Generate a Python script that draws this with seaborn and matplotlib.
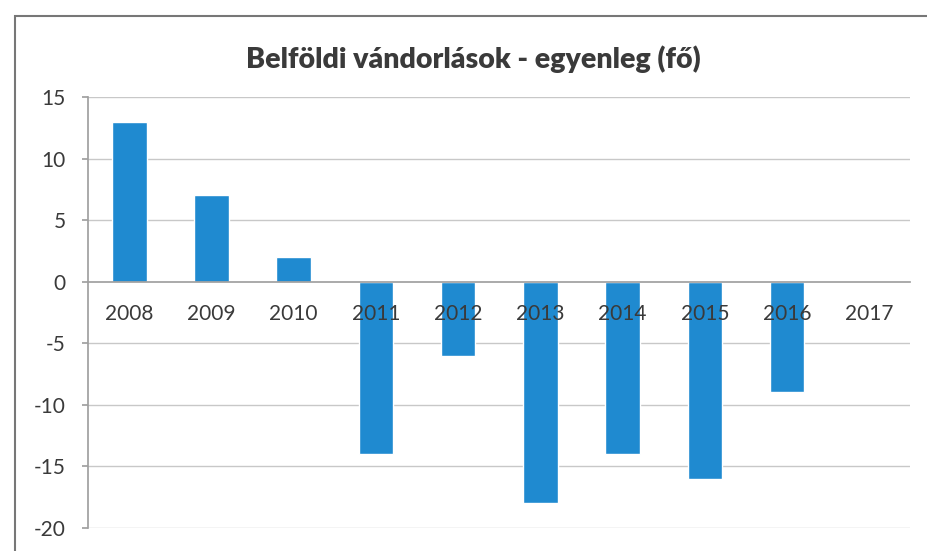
import pandas as pd
import matplotlib.pyplot as plt
import seaborn as sns
from matplotlib.patches import Rectangle

# Data
years = ['2008', '2009', '2010', '2011', '2012', '2013', '2014', '2015', '2016', '2017']
balance = [13, 7, 2, -14, -6, -18, -14, -16, -9, 0]
y_ticks = [15, 10, 5, 0, -5, -10, -15, -20]

df = pd.DataFrame({'year': years, 'balance': balance})

sns.set_theme(style='white')
plt.rcParams['font.family'] = ['Lato', 'DejaVu Sans']

fig = plt.figure(figsize=(9.28, 5.51), dpi=100)
ax = fig.add_axes([0.095, 0.042, 0.886, 0.782])

sns.barplot(data=df, x='year', y='balance', color='#1f8ad0', width=0.42,
            saturation=1, ax=ax, zorder=2)

ax.set_ylim(-20, 15)
ax.set_xlim(-0.5, len(years) - 0.5)
ax.set_yticks(y_ticks)
ax.set_yticklabels([str(v) for v in y_ticks], fontsize=15, color='#3a3a3a')

# gridlines behind the bars, year labels drawn over them (Excel style)
for v in y_ticks:
    if v != 0:
        ax.axhline(v, color='#c8c8c8', linewidth=1, zorder=0)
ax.set_axisbelow(False)

ax.spines['bottom'].set_position(('data', 0))
ax.spines['bottom'].set_color('#a0a0a0')
ax.spines['left'].set_color('#a0a0a0')
ax.spines['top'].set_visible(False)
ax.spines['right'].set_visible(False)
ax.tick_params(axis='x', length=0, pad=16, labelsize=15, labelcolor='#3a3a3a')
ax.tick_params(axis='y', length=4, color='#a0a0a0', left=True, pad=12)
ax.set_xlabel(None)
ax.set_ylabel(None)

fig.text(0.51, 0.893, 'Belföldi vándorlások - egyenleg (fő)', ha='center', va='center',
         fontsize=20.5, fontweight='heavy', color='#3a3a3a')

# chart frame
fig.patches.append(Rectangle((0.016, -0.05), 1.1, 1.021, transform=fig.transFigure,
                             fill=False, edgecolor='#777777', linewidth=1.5))

plt.savefig('out.png')
